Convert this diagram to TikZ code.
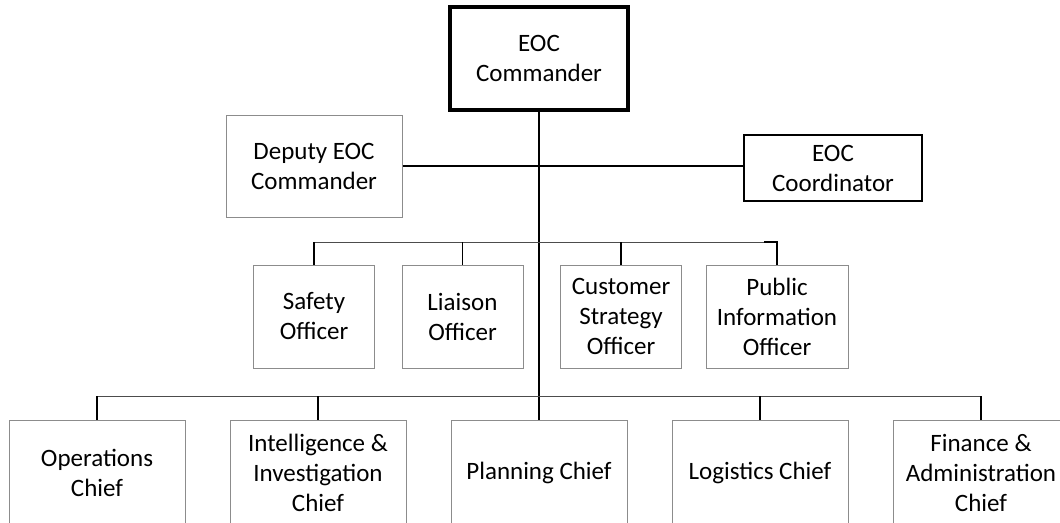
\documentclass[tikz,border=0pt]{standalone}
\usepackage{fontspec}
\setmainfont{Carlito}
\usetikzlibrary{positioning}
\tikzstyle{box} = [
draw=black!45,
line width=1pt,
minimum width=176pt,
minimum height=102pt,
inner sep=2pt,
font=\fontsize{25}{30}\selectfont
]
\tikzstyle{cmdbox} = [
box,
draw=black,
line width=4pt,
minimum width=178pt,
minimum height=103pt
]
\tikzstyle{coordbox} = [
box,
draw=black,
line width=1.5pt,
minimum width=178pt,
minimum height=66pt
]
\tikzstyle{officer} = [
box,
minimum width=121pt,
minimum height=103pt
]
\tikzstyle{chief} = [
box,
minimum height=106pt
]
\tikzstyle{link} = [
line width=1.5pt,
draw=black
]
\tikzstyle{bus} = [
line width=1pt,
draw=black!70
]

\begin{document}
\begin{tikzpicture}[
	align=center,
	x=1pt,
	y=1pt,
	node distance=221pt
	]
	\useasboundingbox (0,0) rectangle (1060,-522);
	\clip (0,0) rectangle (1060,-522);
	
	\node[cmdbox] (cmd) at (539,-58.5) {EOC\\Commander};
	\node[box] (dep) at (314,-166) {Deputy EOC\\Commander};
	\node[coordbox] (coord) at (833,-168) {EOC\\Coordinator};
	
	\node[officer] (off1) at (314,-316.5) {Safety\\Officer};
	\node[officer,right of=off1,node distance=148.5pt] (off2) {Liaison\\Officer};
	\node[officer,right of=off2,node distance=158.5pt] (off3) {Customer\\Strategy\\Officer};
	\node[officer,right of=off3,node distance=156pt,minimum width=142pt] (off4) {Public\\Information\\Officer};
	
	\node[chief] (ch1) at (97,-473) {Operations\\Chief};
	\node[chief,right of=ch1] (ch2) {Intelligence \&\\Investigation\\Chief};
	\node[chief,right of=ch2] (ch3) {Planning Chief};
	\node[chief,right of=ch3] (ch4) {Logistics Chief};
	\node[chief,right of=ch4] (ch5) {Finance \&\\Administration\\Chief};
	
	\coordinate (obus) at (539,-242);
	\coordinate (cbus) at (539,-396);
	
	\draw[link] (cmd.south) -- (cmd.south |- ch3.north);
	\draw[link] (dep.east) -- (coord.west |- dep.east);
	
	\draw[bus] (off1.north |- obus) -- (off4.north |- obus);
	\draw[link] (off1.north) -- (off1.north |- obus);
	\draw[link] (off2.north) -- (off2.north |- obus);
	\draw[link] (off3.north) -- (off3.north |- obus);
	\draw[link] (off4.north) |- ([xshift=-13pt]off4.north |- obus);
	
	\draw[bus] (ch1.north |- cbus) -- (ch5.north |- cbus);
	\draw[link] (ch1.north) -- (ch1.north |- cbus);
	\draw[link] (ch2.north) -- (ch2.north |- cbus);
	\draw[link] (ch4.north) -- (ch4.north |- cbus);
	\draw[link] (ch5.north) -- (ch5.north |- cbus);
\end{tikzpicture}
\end{document}
